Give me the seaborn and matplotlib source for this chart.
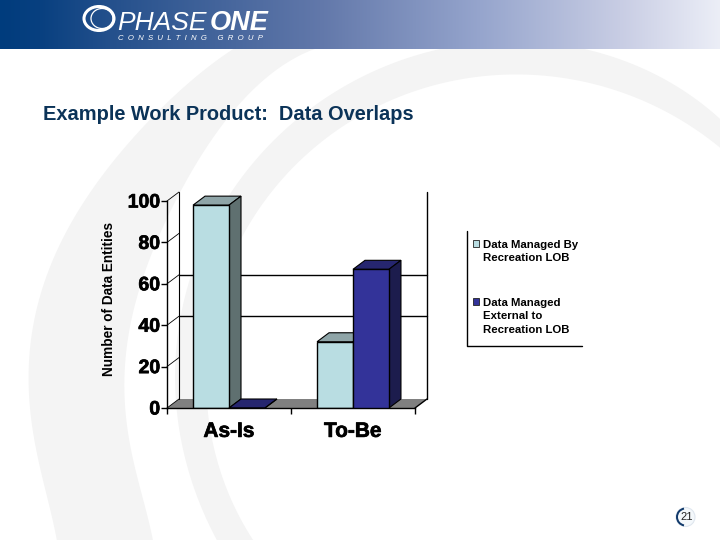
import numpy as np
import pandas as pd
import matplotlib
matplotlib.use('Agg')
import matplotlib.pyplot as plt
import matplotlib.patheffects as pe
from matplotlib.patches import Ellipse, Polygon, Wedge
import seaborn as sns

# Values
categories = ['As-Is', 'To-Be']
managed_by = [98, 32]
managed_external = [0, 67]
series_names = ['Data Managed By\nRecreation LOB', 'Data Managed\nExternal to\nRecreation LOB']
y_ticks = [0, 20, 40, 60, 80, 100]
grid_values = [40, 60]

title = 'Example Work Product:  Data Overlaps'
y_label = 'Number of Data Entities'
page_number = '21'

# face, top, side
light = ('#b9dde2', '#8fa5a8', '#5f7070')
dark = ('#333399', '#26266f', '#1c1c4d')

# Background swoosh edges, in pixels
ring1_outer = [(57, 540), (35, 450), (30, 390), (38, 310), (58, 240), (107, 173), (147, 123), (200, 73), (222, 55), (240, 46)]
ring1_inner = [(153, 540), (125, 420), (127, 370), (138, 290), (180, 190), (223, 128), (280, 65), (327, 46)]
ring2_outer = [(217, 540), (177, 420), (175, 370), (185, 300), (205, 240), (233, 195), (280, 128), (347, 82), (420, 57),
               (440, 50), (520, 45), (600, 48), (720, 120)]
ring2_inner = [(253, 540), (213, 440), (205, 380), (215, 310), (240, 240), (270, 195), (297, 162), (347, 125), (420, 90),
               (460, 78), (520, 75), (580, 80), (660, 110), (720, 147)]


def smooth_edge(points, cx=440, cy=400, deg=5):
    # smooth the read-off edge in polar form, run a little past both ends
    pts = np.array(points, dtype=float)
    theta = np.mod(np.arctan2(pts[:, 1] - cy, pts[:, 0] - cx), 2 * np.pi)
    r = np.hypot(pts[:, 0] - cx, pts[:, 1] - cy)
    coef = np.polyfit(theta, r, deg)
    t = np.linspace(theta.min() - 0.04, theta.max() + 0.04, 200)
    rr = np.polyval(coef, t)
    return np.column_stack([cx + rr * np.cos(t), cy + rr * np.sin(t)])


def swoosh(outer, inner, color):
    verts = np.vstack([smooth_edge(outer), smooth_edge(inner)[::-1]])
    return Polygon(verts, facecolor=color, edgecolor='none')


sns.set_style('white')
plt.rcParams['font.family'] = ['Liberation Sans', 'DejaVu Sans']

fig = plt.figure(figsize=(7.2, 5.4), dpi=100)

# Slide background
bg = fig.add_axes([0, 0, 1, 1], zorder=0)
bg.add_patch(swoosh(ring1_outer, ring1_inner, '#f4f4f4'))
bg.add_patch(swoosh(ring2_outer, ring2_inner, '#f4f4f4'))

stops_x = [0, 40, 110, 320, 480, 620, 720]
stops_rgb = np.array([[0, 60, 125], [8, 64, 128], [36, 80, 140], [98, 120, 170], [150, 165, 205], [200, 205, 228], [236, 238, 247]]) / 255
xs = np.arange(720)
header = np.stack([np.interp(xs, stops_x, stops_rgb[:, i]) for i in range(3)], axis=1)[None, :, :]
bg.imshow(header, extent=(0, 720, 49, 0), aspect='auto', zorder=2)
bg.set_xlim(0, 720)
bg.set_ylim(540, 0)
bg.axis('off')

# Logo
bg.add_patch(Ellipse((99, 18.5), 30, 24, facecolor='none', edgecolor='white', lw=2.2, zorder=3))
bg.add_patch(Ellipse((102, 18.5), 22, 20, facecolor='none', edgecolor='white', lw=0.9, zorder=3))
bg.text(117, 29.5, 'PHASE', color='white', fontsize=19, style='italic', va='baseline', zorder=3)
bg.text(210, 29.5, 'ONE', color='white', fontsize=19.5, style='italic', weight='bold', va='baseline', zorder=3)
bg.text(118, 39.5, 'C  O  N  S  U  L  T  I  N  G     G  R  O  U  P', color='white', fontsize=5.6, style='italic',
        va='baseline', zorder=3)

bg.text(43, 114.5, title, color='#0b3358', fontsize=14.45, weight='bold', va='center')

# Legend frame lines
bg.plot([467, 467, 582], [231, 346, 346], color='black', lw=1)

# Page number
bg.add_patch(Ellipse((685.5, 517), 19, 19, facecolor='#f4f8fb', edgecolor='#dfe6ee', lw=0.8))
bg.add_patch(Wedge((685.5, 517), 9.5, 100, 260, width=2, facecolor='#123a6b', edgecolor='none'))
bg.text(686.5, 517.5, page_number, fontsize=8, color='#222222', ha='center', va='center')

# Chart
df = pd.DataFrame({
    'category': categories * 2,
    'series': [series_names[0]] * 2 + [series_names[1]] * 2,
    'value': managed_by + managed_external,
})

ax = fig.add_axes([167 / 720, (540 - 408) / 540, 248 / 720, 207 / 540], zorder=1)
ax.patch.set_alpha(0)
sns.barplot(data=df, x='category', y='value', hue='series', hue_order=series_names,
            palette=[light[0], dark[0]], width=0.58, gap=0, saturation=1,
            edgecolor='black', linewidth=1, ax=ax, zorder=5)
ax.set_xlim(-0.5, 1.5)
ax.set_ylim(0, 100)

dx = 12 / 124
dy = 9 / 2.07

# Floor and walls
ax.add_patch(Polygon([(-0.5, 0), (-0.5 + dx, dy), (1.5 + dx, dy), (1.5, 0)], facecolor='#808080',
                     edgecolor='none', clip_on=False, zorder=1))
ax.plot([1.5, 1.5 + dx], [0, dy], color='black', lw=1, clip_on=False, zorder=2)
ax.plot([-0.5 + dx, -0.5 + dx], [dy, 100 + dy], color='black', lw=0.8, clip_on=False, zorder=2)
ax.plot([1.5 + dx, 1.5 + dx], [dy, 100 + dy], color='black', lw=1, clip_on=False, zorder=2)
for v in y_ticks:
    ax.plot([-0.5, -0.5 + dx], [v, v + dy], color='black', lw=0.6, clip_on=False, zorder=2)
for v in grid_values:
    ax.plot([-0.5 + dx, 1.5 + dx], [v + dy, v + dy], color='black', lw=1, clip_on=False, zorder=2)

# 3D faces for every bar, built from the bars seaborn drew
bar_colors = [light, light, dark, dark]
for i, (bar, cols) in enumerate(zip(ax.patches[:4], bar_colors)):
    x0, w, h = bar.get_x(), bar.get_width(), bar.get_height()
    z = 3 + i * 2 if i < 2 else 8 + i * 2
    bar.set_zorder(z + 1)
    top = [(x0, h), (x0 + dx, h + dy), (x0 + w + dx, h + dy), (x0 + w, h)]
    side = [(x0 + w, 0), (x0 + w + dx, dy), (x0 + w + dx, h + dy), (x0 + w, h)]
    ax.add_patch(Polygon(top, facecolor=cols[1], edgecolor='black', lw=0.8, clip_on=False, zorder=z))
    ax.add_patch(Polygon(side, facecolor=cols[2], edgecolor='black', lw=0.8, clip_on=False, zorder=z))

sns.despine(ax=ax)
ax.spines['left'].set_color('black')
ax.spines['bottom'].set_color('black')
ax.spines['left'].set_linewidth(1)
ax.spines['bottom'].set_linewidth(1)
ax.spines['left'].set_zorder(2)
ax.spines['bottom'].set_zorder(12)

ax.set_yticks(y_ticks)
ax.set_xticks([-0.5, 0.5, 1.5], minor=True)
ax.tick_params(axis='y', length=4, width=1, left=True, pad=1, labelsize=14, labelcolor='black', color='black')
ax.tick_params(axis='x', which='major', length=0, pad=10, labelsize=15, labelcolor='black')
ax.tick_params(axis='x', which='minor', length=4, width=1, bottom=True, color='black')
for lab in ax.get_xticklabels() + ax.get_yticklabels():
    lab.set_fontweight('bold')
    lab.set_path_effects([pe.withStroke(linewidth=0.5, foreground='black')])

ax.set_xlabel('')
ax.set_ylabel(y_label, fontsize=9.8, fontweight='bold', color='black')
ax.yaxis.set_label_coords((116 - 167) / 248, (408 - 299) / 207)

# Legend
sns.move_legend(ax, 'upper left', bbox_to_anchor=((473 - 167) / 248, (408 - 240) / 207), frameon=False,
                title=None, fontsize=8.2, labelspacing=3.05, handlelength=0.55, handleheight=0.55,
                handletextpad=0.32, borderpad=0, borderaxespad=0)
leg = ax.get_legend()
for text, handle, shift in zip(leg.get_texts(), leg.legend_handles, [8.5, 15]):
    text.set_fontweight('bold')
    text.set_color('black')
    text.set_linespacing(1.42)
    handle.set_y(handle.get_y() + shift * 0.72)
    handle.set_edgecolor('#222222')
    handle.set_linewidth(0.6)

fig.savefig('out.png', dpi=100)
